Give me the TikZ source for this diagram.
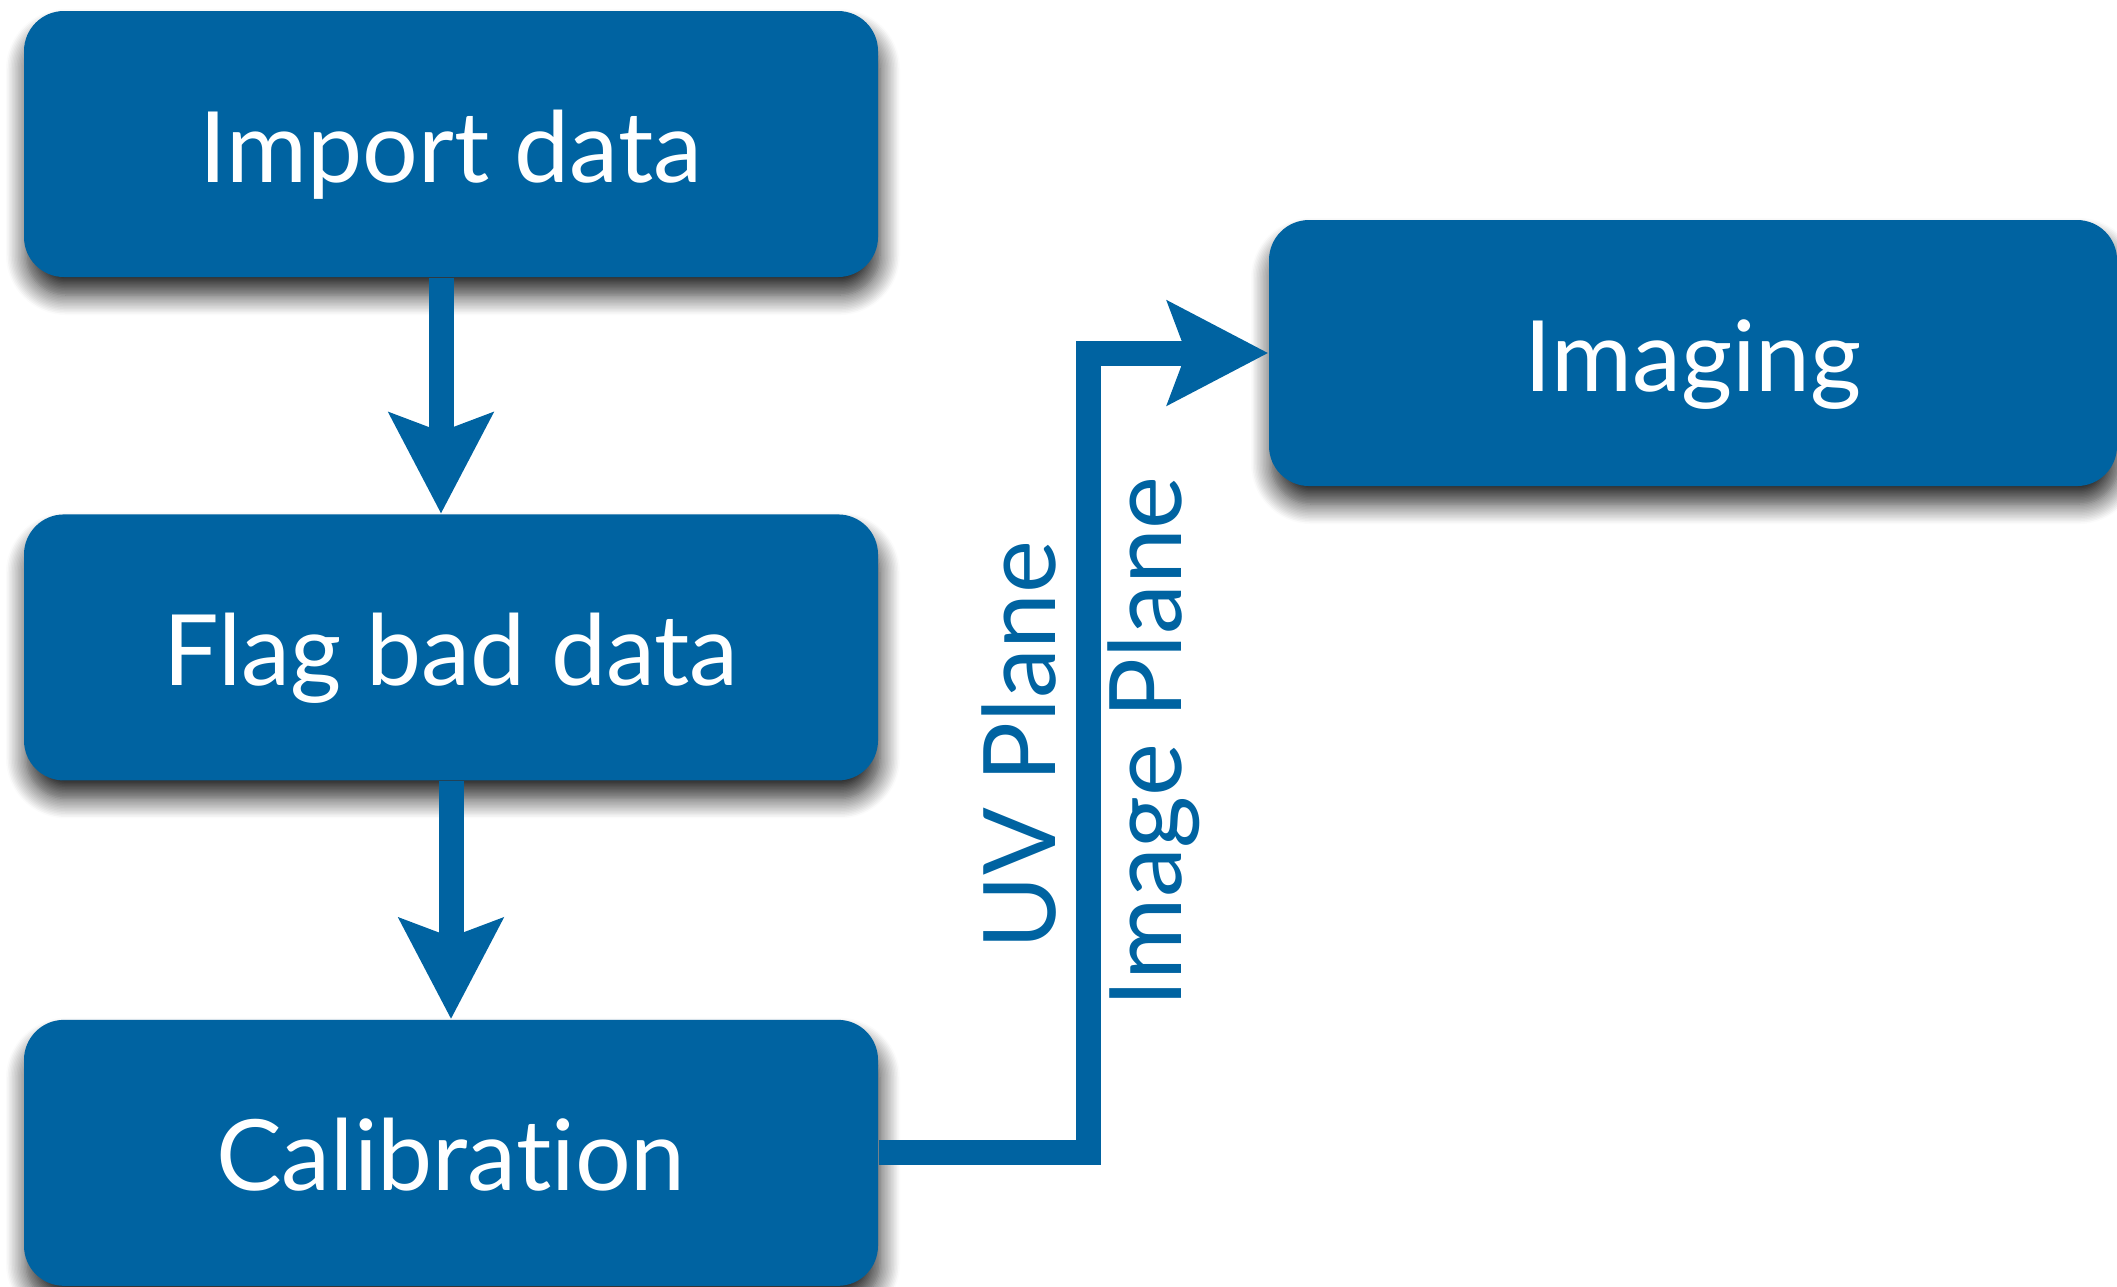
\documentclass[tikz,border=0pt]{standalone}
\usepackage{fontspec}
\setmainfont[Ligatures=NoCommon]{Lato}
\usetikzlibrary{positioning, arrows.meta, shadows.blur}
\definecolor{stepblue}{RGB}{0,99,161}

\begin{document}
\begin{tikzpicture}[
  node distance=2.36cm,
  stage/.style={fill=stepblue, text=white, rounded corners=0.4cm, inner sep=0pt,
                font=\fontsize{28}{30}\selectfont, text height=0.88cm, text depth=0.12cm,
                minimum width=8.54cm, minimum height=2.66cm,
                blur shadow={shadow xshift=0.2mm, shadow yshift=-1.8mm, shadow blur radius=2mm,
                             shadow blur steps=14, shadow opacity=85}},
  flow/.style={draw=stepblue, line width=0.25cm, line join=miter,
               -{Stealth[length=1cm, width=1.02cm, inset=0.18cm]}},
  plane/.style={text=stepblue, font=\fontsize{28.5}{30}\selectfont, rotate=90}]
  \useasboundingbox (0,0) rectangle (21.17,-12.86);
  \node[stage] (import) at (4.51,-1.44) {Import data};
  \node[stage, below=of import] (flag) {Flag bad data};
  \node[stage, below=2.38cm of flag] (calib) {Calibration};
  \node[stage, minimum width=8.48cm] (imaging) at (16.93,-3.53) {Imaging};
  \coordinate (bend) at (10.88,0);
  % processing steps
  \draw[flow] ([xshift=-1mm]import.south) -- ([xshift=-1mm]flag.north);
  \draw[flow] (flag) -- (calib);
  \draw[flow] (calib.east) -| (bend |- imaging.west) -- (imaging.west);
  \node[plane] (uv) at (10.19,-7.45) {UV Plane};
  \node[plane] (img) at (11.54,-7.42) {Image Plane};
\end{tikzpicture}
\end{document}
